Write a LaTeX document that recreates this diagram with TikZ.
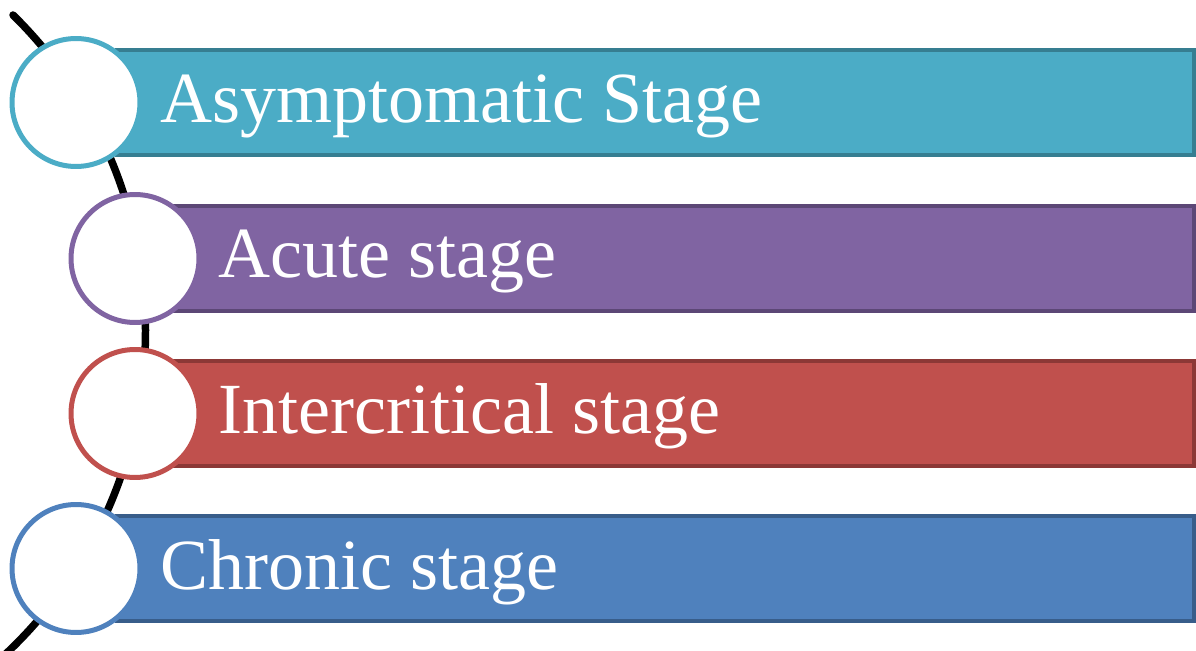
\documentclass[tikz,border=0pt]{standalone}
\usepackage{fontspec}
\setmainfont{Liberation Serif}
\usepackage{tikz}
\usetikzlibrary{positioning}
\definecolor{aquafill}{HTML}{4BACC6}
\definecolor{aquaedge}{HTML}{367E91}
\definecolor{violetfill}{HTML}{8064A2}
\definecolor{violetedge}{HTML}{5C4776}
\definecolor{redfill}{HTML}{C0504D}
\definecolor{rededge}{HTML}{8C3836}
\definecolor{bluefill}{HTML}{4F81BD}
\definecolor{blueedge}{HTML}{385D8A}
\tikzset{
  stagebar/.style={rectangle, line width=0.08cm, outer sep=0pt, minimum height=2.1cm, anchor=west},
  stagedot/.style={circle, fill=white, line width=0.1cm, inner sep=0pt, minimum size=2.56cm},
  stagelabel/.style={anchor=base west, inner sep=0pt, text=white, font=\fontsize{41}{49}\selectfont},
  timeline/.style={line width=0.15cm, line cap=round, black},
}

\begin{document}
\begin{tikzpicture}[x=0.02cm, y=-0.02cm]
  \useasboundingbox (0,0) rectangle (1196,651);
  \clip (0,0) rectangle (1196,651);

  % curved time line behind everything
  \draw[timeline] (13,15) arc[start angle=-45.5, end angle=48, radius=443];

  % bars
  \node[stagebar, draw=aquaedge, fill=aquafill, minimum width=21.54cm] (B1) at (117,102.5) {};
  \node[stagebar, draw=violetedge, fill=violetfill, minimum width=20.38cm] (B2) at (175,258.5) {};
  \node[stagebar, draw=rededge, fill=redfill, minimum width=20.38cm] (B3) at (175,413.5) {};
  \node[stagebar, draw=blueedge, fill=bluefill, minimum width=21.54cm] (B4) at (117,568.5) {};

  % stage names
  \node[stagelabel] (L1) at (160,123) {Asymptomatic Stage};
  \node[stagelabel] (L2) at (218,278) {Acute stage};
  \node[stagelabel] (L3) at (218,434) {Intercritical stage};
  \node[stagelabel] (L4) at (160,589) {Chronic stage};

  % white dots on the line
  \foreach \nd/\px/\py/\col in {C1/76/102.5/aquafill, C2/135/258.5/violetfill, C3/135/413.5/redfill, C4/76/568.5/bluefill} {
    \node[stagedot, draw=\col] (\nd) at (\px,\py) {};
  }
\end{tikzpicture}
\end{document}
